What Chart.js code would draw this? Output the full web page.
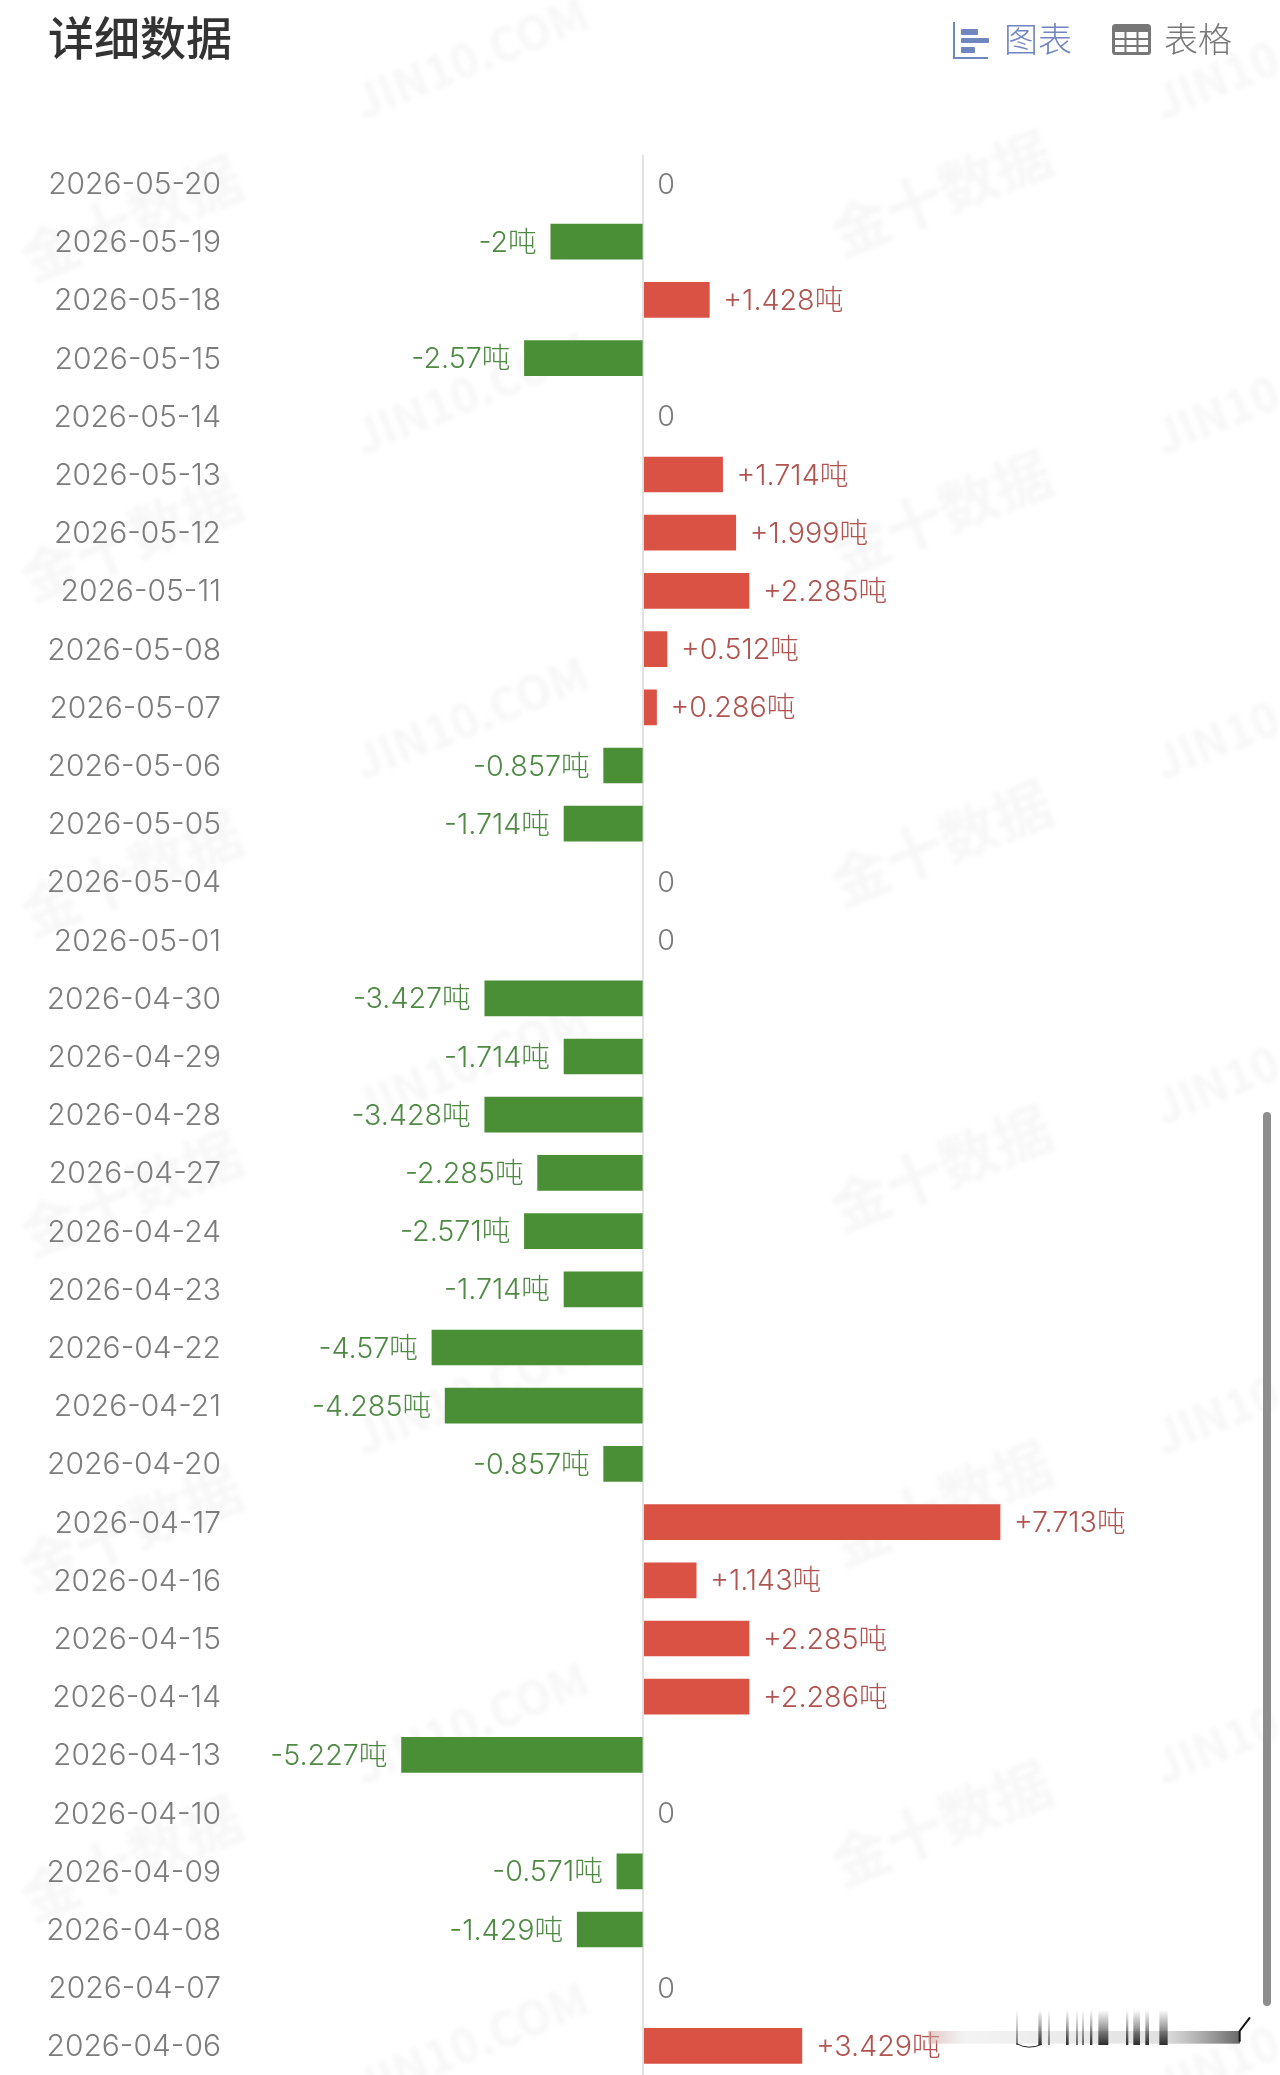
<!DOCTYPE html>
<html lang="zh">
<head>
<meta charset="utf-8">
<title>详细数据</title>
<script src="https://cdn.jsdelivr.net/npm/chart.js@4/dist/chart.umd.min.js"></script>
<style>
html,body{margin:0;padding:0;background:#fff;width:1280px;height:2075px;overflow:hidden;}
#stage{position:relative;width:1280px;height:2075px;overflow:hidden;}
#wm,#chartBox,.top{position:absolute;}
#wm{left:0;top:0;width:1280px;height:2075px;filter:blur(2px);}
.w{position:absolute;color:#f7f7f7;font-family:"Noto Sans CJK SC",sans-serif;font-weight:700;white-space:nowrap;transform:translate(-50%,-50%) rotate(-22deg);}
#chartBox{left:0;top:0;width:1280px;height:2075px;}
.t{position:absolute;font-family:"Noto Sans CJK SC",sans-serif;white-space:nowrap;line-height:1;}
</style>
</head>
<body>
<div id="stage">
<div id="wm"></div>
<div id="chartBox"><canvas id="c" width="1280" height="2075"></canvas></div>
<div class="t" style="left:48px;top:12px;font-size:46px;font-weight:500;color:#333;">详细数据</div>
<svg style="position:absolute;left:950px;top:18px" width="44" height="46" viewBox="0 0 44 46">
<path d="M4 4V40H38" fill="none" stroke="#6f86bf" stroke-width="2"/>
<rect x="11" y="11" width="17" height="6" rx="1" fill="#6f86bf"/>
<rect x="11" y="20" width="28" height="5" rx="1" fill="#6f86bf"/>
<rect x="11" y="29" width="14" height="6" rx="1" fill="#6f86bf"/>
</svg>
<div class="t" style="left:1004px;top:21px;font-size:34px;color:#6f86bf;font-weight:300;">图表</div>
<svg style="position:absolute;left:1112px;top:24px" width="40" height="32" viewBox="0 0 40 32">
<rect x="1.5" y="1.5" width="36" height="28" rx="2" fill="#fff" stroke="#777" stroke-width="3"/>
<rect x="1" y="1" width="37" height="7" fill="#777"/>
<path d="M13.5 8V29M25.5 8V29M2 15H37M2 22H37" stroke="#777" stroke-width="2"/>
</svg>
<div class="t" style="left:1164px;top:21px;font-size:34px;color:#777;font-weight:300;">表格</div>
<div style="position:absolute;left:1263px;top:1112px;width:8px;height:894px;border-radius:4px;background:#8d8d8d;"></div>
<svg style="position:absolute;left:900px;top:1975px" width="380" height="100" viewBox="0 0 1140 300">
<defs>
<linearGradient id="band" x1="0" x2="1" y1="0" y2="0">
<stop offset="0" stop-color="#c99a94" stop-opacity=".55"/><stop offset=".12" stop-color="#ddd" stop-opacity=".35"/>
<stop offset=".75" stop-color="#ccc" stop-opacity=".6"/><stop offset="1" stop-color="#555" stop-opacity=".9"/>
</linearGradient>
<linearGradient id="fade" x1="0" x2="0" y1="0" y2="1">
<stop offset="0" stop-color="#222" stop-opacity="0"/><stop offset=".4" stop-color="#222" stop-opacity=".35"/><stop offset="1" stop-color="#222" stop-opacity=".95"/>
</linearGradient>
</defs>
<rect x="85" y="168" width="935" height="38" fill="url(#band)"/>
<g fill="url(#fade)">
<rect x="348" y="105" width="6" height="105" opacity=".6"/><rect x="415" y="105" width="10" height="105"/>
<rect x="444" y="105" width="6" height="105" opacity=".6"/><rect x="498" y="105" width="8" height="105"/>
<rect x="528" y="105" width="6" height="105" opacity=".7"/><rect x="546" y="105" width="6" height="105" opacity=".7"/>
<rect x="570" y="105" width="7" height="105"/><rect x="595" y="105" width="30" height="105"/>
<rect x="678" y="105" width="7" height="105"/><rect x="700" y="105" width="20" height="105"/>
<rect x="736" y="105" width="11" height="105"/><rect x="778" y="105" width="25" height="105"/>
</g>
<path d="M350 206Q385 226 425 208" fill="none" stroke="#222" stroke-width="3"/>
<path d="M1019 200V168L1050 127" fill="none" stroke="#111" stroke-width="6"/>
</svg>
</div>
<script>
// ---- Data ----
const dates = ["2026-05-20","2026-05-19","2026-05-18","2026-05-15","2026-05-14","2026-05-13","2026-05-12","2026-05-11","2026-05-08","2026-05-07","2026-05-06","2026-05-05","2026-05-04","2026-05-01","2026-04-30","2026-04-29","2026-04-28","2026-04-27","2026-04-24","2026-04-23","2026-04-22","2026-04-21","2026-04-20","2026-04-17","2026-04-16","2026-04-15","2026-04-14","2026-04-13","2026-04-10","2026-04-09","2026-04-08","2026-04-07","2026-04-06"];
const changes = [0,-2,1.428,-2.57,0,1.714,1.999,2.285,0.512,0.286,-0.857,-1.714,0,0,-3.427,-1.714,-3.428,-2.285,-2.571,-1.714,-4.57,-4.285,-0.857,7.713,1.143,2.285,2.286,-5.227,0,-0.571,-1.429,0,3.429];
const unit = "吨";
const title = "详细数据";

// ---- Styles ----
const RED="#da5244", GREEN="#4a8f36", RED_TXT="#b0544f", GREEN_TXT="#4f8a44", GRAY="#7c7c7c";
const LABEL_FONT='300 28.7px Inter, "Noto Sans CJK SC", sans-serif';
const PX_PER_UNIT=46.25, ZERO_X=643.3, AXIS_W=230;

// ---- Watermarks (decoration) ----
const wm=document.getElementById("wm");
function mark(text,x,y,size){const d=document.createElement("div");d.className="w";d.textContent=text;d.style.left=x+"px";d.style.top=y+"px";d.style.fontSize=size+"px";wm.appendChild(d);}
[55,390,715,1060,1390,1720,2040].forEach(y=>mark("JIN10.COM",470,y,46));
[55,390,715,1060,1390,1720,2040].forEach(y=>mark("JIN10.COM",1270,y,46));
[215,535,870,1190,1525,1855].forEach(y=>mark("金十数据",130,y,58));
[190,510,840,1165,1500,1820].forEach(y=>mark("金十数据",940,y,58));

// ---- Data labels ----
const valueLabels={id:"valueLabels",afterDatasetsDraw(chart){
  const ctx=chart.ctx,meta=chart.getDatasetMeta(0);
  ctx.save();ctx.font=LABEL_FONT;ctx.textBaseline="middle";
  changes.forEach((v,i)=>{
    const bar=meta.data[i],y=bar.y+1.5;
    if(v===0){ctx.fillStyle=GRAY;ctx.textAlign="left";ctx.fillText("0",bar.x+14,y);}
    else if(v>0){ctx.fillStyle=RED_TXT;ctx.textAlign="left";ctx.fillText("+"+v+unit,bar.x+14,y);}
    else{ctx.fillStyle=GREEN_TXT;ctx.textAlign="right";ctx.fillText(v+unit,bar.x-14,y);}
  });
  ctx.restore();
}};

new Chart(document.getElementById("c"),{
  type:"bar",
  data:{labels:dates,datasets:[{data:changes,
    backgroundColor:changes.map(v=>v===0?"rgba(0,0,0,0)":(v<0?GREEN:RED)),
    borderWidth:0,barThickness:35,borderSkipped:false}]},
  plugins:[valueLabels],
  options:{
    indexAxis:"y",responsive:false,animation:false,
    layout:{padding:{top:154.4,left:0,right:0,bottom:0}},
    plugins:{legend:{display:false},tooltip:{enabled:false},title:{display:false}},
    scales:{
      x:{min:(AXIS_W-ZERO_X)/PX_PER_UNIT,max:(1280-ZERO_X)/PX_PER_UNIT,
        afterBuildTicks(s){s.ticks=[{value:0}];},
        afterFit(s){s.height=0;s.paddingLeft=0;s.paddingRight=0;},
        ticks:{display:false},border:{display:false},
        grid:{color:"#e2e2e2",lineWidth:2,drawTicks:false,tickLength:0}},
      y:{afterFit(s){s.width=AXIS_W;s.paddingTop=0;s.paddingBottom=0;},
        grid:{display:false,drawTicks:false,tickLength:0},border:{display:false},
        ticks:{autoSkip:false,padding:9,labelOffset:1.5,color:GRAY,font:{family:'Inter, "Noto Sans CJK SC", sans-serif',size:30,weight:"300"}}}
    }
  }
});
</script>
</body>
</html>
